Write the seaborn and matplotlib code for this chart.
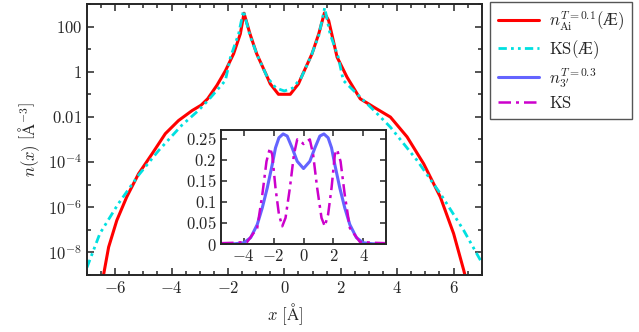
import numpy as np
import pandas as pd
import matplotlib
matplotlib.use("Agg")
import matplotlib.pyplot as plt
import seaborn as sns

# main panel: densities on a log scale
x_ai = [-6.41, -6.23, -5.94, -5.59, -5.17, -4.69, -4.22, -3.75, -3.27, -2.95, -2.72, -2.39, -2.09,
        -1.80, -1.56, -1.43, -1.22, -0.98, -0.63, -0.50, -0.21, 0.0, 0.21, 0.50, 0.63,
        0.98, 1.22, 1.42, 1.57, 1.87, 2.22, 2.69, 2.95, 3.17, 3.76, 4.35, 4.94, 5.53, 6.00, 6.36, 6.42]
n_ai = [1.0e-9, 1.7e-8, 2.6e-7, 2.8e-6, 3.0e-5, 2.3e-4, 1.8e-3, 6.9e-3, 1.9e-2, 3.3e-2, 6.3e-2, 0.25, 1.1,
        6.2, 48, 390, 48, 6.2, 0.68, 0.29, 0.10, 0.10, 0.10, 0.29, 0.68,
        6.2, 48, 400, 186, 4.4, 0.58, 0.063, 0.040, 0.027, 9.8e-3, 1.3e-3, 8.3e-5, 2.8e-6, 6.8e-8, 1.6e-9, 8e-10]

x_ks_ae = [-7.0, -6.54, -5.89, -5.17, -4.46, -3.64, -3.05, -2.70, -2.09, -1.91, -1.62, -1.45,
           -1.22, -0.95, -0.60, -0.30, 0.0, 0.30, 0.60, 0.95, 1.22, 1.43, 1.62, 1.91,
           2.09, 2.69, 3.20, 3.76, 4.70, 5.53, 6.36, 6.95, 7.0]
n_ks_ae = [2.1e-9, 6.8e-8, 1.4e-6, 2.6e-5, 3.2e-4, 4.2e-3, 1.9e-2, 5.4e-2, 0.41, 4.4, 48, 510,
           40, 5.0, 0.55, 0.19, 0.14, 0.19, 0.55, 5.0, 40, 680, 48, 4.4,
           0.41, 0.075, 0.018, 3.5e-3, 1.2e-4, 4.0e-6, 9.3e-8, 4.5e-9, 3.5e-9]

# inset: linear densities
x_n3 = [-5.5, -4.6, -3.98, -3.53, -3.09, -2.75, -2.42, -2.09, -1.87, -1.64, -1.36, -1.09, -0.76,
        -0.42, 0.0, 0.42, 0.76, 1.09, 1.36, 1.64, 1.87, 2.09, 2.42, 2.75, 3.09, 3.53, 3.98, 4.6, 5.5]
n_n3 = [0.0, 0.0005, 0.003, 0.015, 0.046, 0.086, 0.133, 0.188, 0.228, 0.252, 0.261, 0.256, 0.228,
        0.196, 0.179, 0.196, 0.228, 0.256, 0.261, 0.252, 0.228, 0.188, 0.133, 0.086, 0.046, 0.015,
        0.003, 0.0005, 0.0]

x_ks = [-5.5, -4.6, -3.76, -3.09, -2.75, -2.47, -2.24, -2.09, -1.87, -1.64, -1.42, -1.2, -0.91,
        -0.64, -0.42, -0.09, 0.0, 0.09, 0.42, 0.64, 0.91, 1.2, 1.42, 1.64, 1.87, 2.09, 2.24, 2.47,
        2.75, 3.09, 3.76, 4.6, 5.5]
n_ks = [0.002, 0.003, 0.005, 0.038, 0.117, 0.196, 0.228, 0.212, 0.133, 0.070, 0.042, 0.062, 0.133,
        0.212, 0.248, 0.240, 0.237, 0.240, 0.248, 0.212, 0.133, 0.062, 0.042, 0.070, 0.133, 0.212,
        0.224, 0.196, 0.117, 0.038, 0.005, 0.003, 0.002]

y_ticks = [1e-8, 1e-6, 1e-4, 1e-2, 1, 100]
y_ticklabels = [r'$10^{-8}$', r'$10^{-6}$', r'$10^{-4}$', r'$0.01$', r'$1$', r'$100$']

sns.set_style("ticks")
plt.rcParams['mathtext.fontset'] = 'cm'
plt.rcParams['font.family'] = ['DejaVu Serif']
plt.rcParams['axes.linewidth'] = 1.4

fig = plt.figure(figsize=(6.39, 3.32), dpi=100)
ax = fig.add_axes([0.136, 0.172, 0.618, 0.816])

sns.lineplot(x=x_ai, y=n_ai, ax=ax, color='#ff0000', lw=2.2, sort=False, estimator=None,
             label=r'$n_{\mathrm{Ai}}^{T=0.1}(\mathrm{Æ})$')
sns.lineplot(x=x_ks_ae, y=n_ks_ae, ax=ax, color='#00e0e0', lw=2.0, sort=False, estimator=None,
             label=r'$\mathrm{KS(Æ)}$')
ax.lines[-1].set_linestyle((0, (3, 1.5, 1, 1.5, 1, 1.5)))

ax.set_yscale('log')
ax.set_xlim(-7, 7)
ax.set_ylim(1e-9, 1e3)
ax.set_yticks(y_ticks)
ax.set_yticklabels(y_ticklabels)
ax.yaxis.set_minor_locator(matplotlib.ticker.FixedLocator([1e-9, 1e-7, 1e-5, 1e-3, 1e-1, 10, 1000]))
ax.yaxis.set_minor_formatter(matplotlib.ticker.NullFormatter())
ax.set_xticks([-6, -4, -2, 0, 2, 4, 6])
ax.set_xticklabels([r'$-6$', r'$-4$', r'$-2$', r'$0$', r'$2$', r'$4$', r'$6$'])
ax.xaxis.set_minor_locator(matplotlib.ticker.MultipleLocator(0.5))
ax.tick_params(which='both', direction='in', top=True, right=True, labelsize=12, width=1.1)
ax.tick_params(which='major', length=5)
ax.tick_params(which='minor', length=3)
ax.set_xlabel(r'$x\ [\mathrm{Å}]$', fontsize=12, labelpad=3)
ax.set_ylabel(r'$n(x)\ \left[\mathrm{Å}^{-3}\right]$', fontsize=12)
ax.get_legend().remove()

ins = fig.add_axes([0.346, 0.265, 0.258, 0.343])
sns.lineplot(x=x_n3, y=n_n3, ax=ins, color='#6464ff', lw=2.2, sort=False, estimator=None,
             label=r"$n_{3'}^{T=0.3}$")
sns.lineplot(x=x_ks, y=n_ks, ax=ins, color='#cc00cc', lw=1.8, sort=False, estimator=None,
             label=r'$\mathrm{KS}$')
ins.lines[-1].set_linestyle((0, (5, 2, 1.2, 2)))
ins.set_xlim(-5.5, 5.5)
ins.set_ylim(0, 0.27)
ins.set_xticks([-4, -2, 0, 2, 4])
ins.set_xticklabels([r'$-4$', r'$-2$', r'$0$', r'$2$', r'$4$'])
ins.set_yticks([0, 0.05, 0.1, 0.15, 0.2, 0.25])
ins.set_yticklabels([r'$0$', r'$0.05$', r'$0.1$', r'$0.15$', r'$0.2$', r'$0.25$'])
ins.tick_params(direction='in', top=True, right=True, labelsize=12, length=4, width=1.1, pad=3)
ins.get_legend().remove()

handles = ax.lines[:2] + ins.lines[:2]
labels = [r'$n_{\mathrm{Ai}}^{T=0.1}(\mathrm{Æ})$', r'$\mathrm{KS(Æ)}$',
          r"$n_{3'}^{T=0.3}$", r'$\mathrm{KS}$']
leg = fig.legend(handles, labels, loc='upper left', bbox_to_anchor=(0.767, 0.994),
                 borderaxespad=0, fontsize=12, fancybox=False, framealpha=1,
                 edgecolor='#555555', handlelength=2.5, labelspacing=0.3, borderpad=0.45,
                 handletextpad=0.6)
leg.get_frame().set_linewidth(1.0)

fig.savefig('out.png', dpi=100)
